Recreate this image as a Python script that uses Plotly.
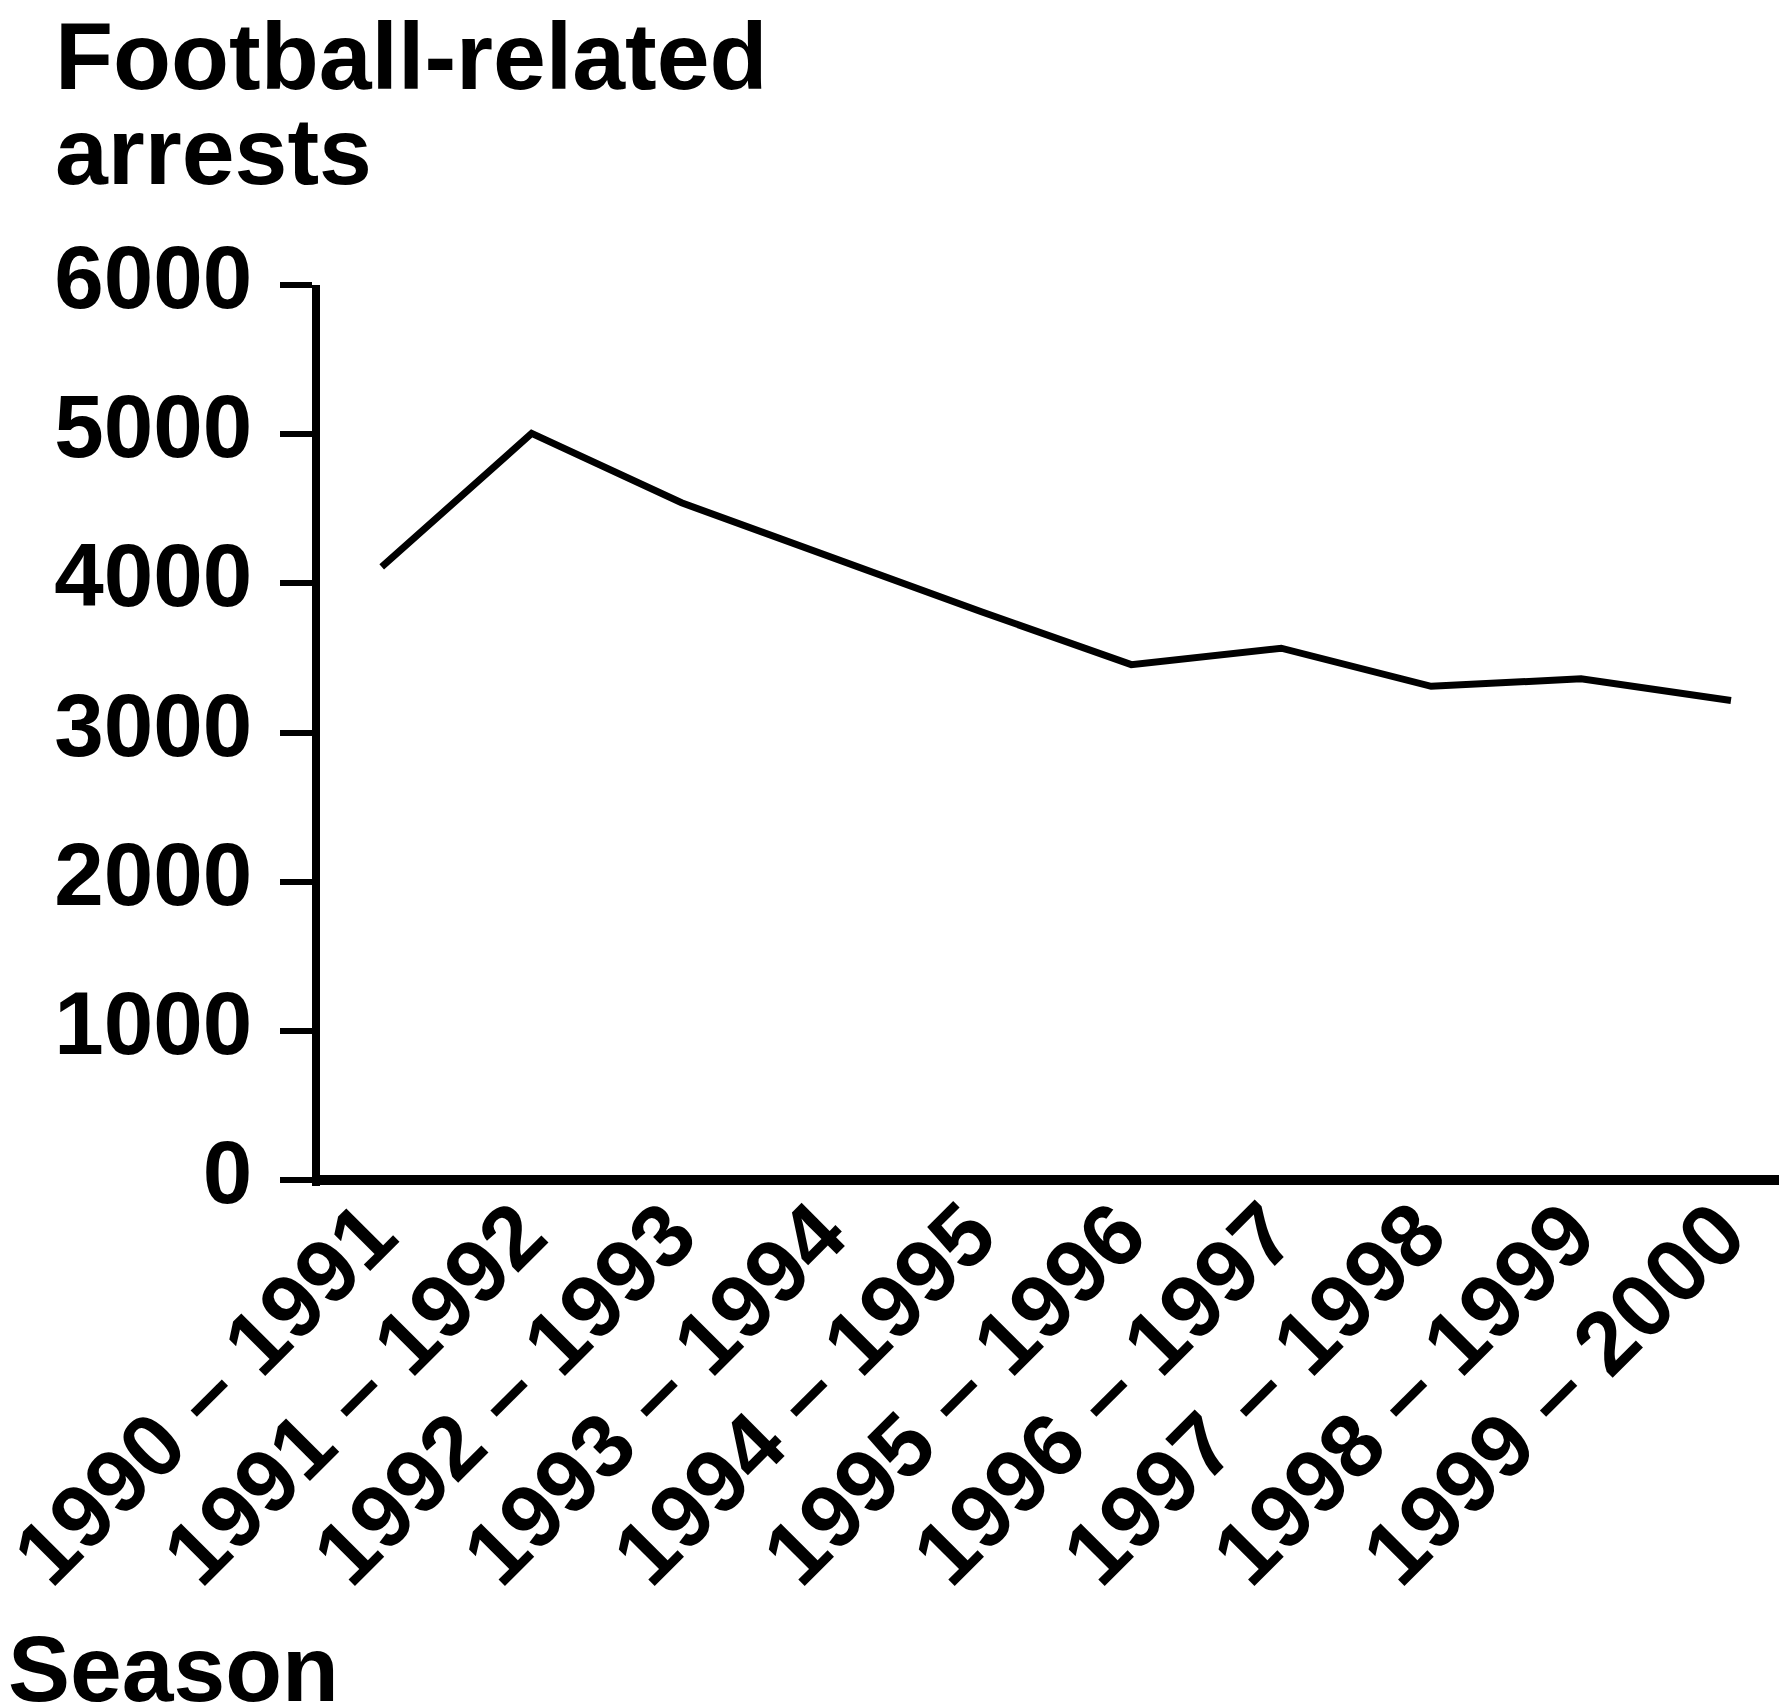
import plotly.graph_objects as go

seasons = ["1990 – 1991", "1991 – 1992", "1992 – 1993", "1993 – 1994", "1994 – 1995",
           "1995 – 1996", "1996 – 1997", "1997 – 1998", "1998 – 1999", "1999 – 2000"]
arrests = [4110, 5005, 4540, 4170, 3810, 3455, 3565, 3310, 3360, 3215]
y_ticks = [0, 1000, 2000, 3000, 4000, 5000, 6000]

FONT = "Liberation Sans, Arial, Helvetica, sans-serif"

fig = go.Figure()
fig.add_trace(go.Scatter(
    x=list(range(len(seasons))), y=arrests, mode="lines",
    line=dict(color="black", width=7), hoverinfo="skip", showlegend=False))

fig.update_layout(
    width=1782, height=1705,
    margin=dict(l=320, r=3, t=285, b=518.5, pad=0),
    paper_bgcolor="white", plot_bgcolor="white",
    font=dict(family=FONT, color="black", size=90, weight="bold"),
    showlegend=False,
    xaxis=dict(
        range=[-0.4116, 9.3203], tickmode="array",
        tickvals=list(range(len(seasons))), ticktext=seasons,
        tickangle=-45, showgrid=False, zeroline=False, automargin=False,
        showline=False, ticks="",
        ticklabeloverflow="allow", ticklabelstandoff=-23, ticklabelshift=-12,
        tickfont=dict(family=FONT, size=89, color="black", weight="bold"),
    ),
    yaxis=dict(
        range=[-40, 6000], tickmode="array", tickvals=y_ticks,
        ticktext=[str(v) for v in y_ticks], automargin=False,
        showgrid=False,
        zeroline=True, zerolinecolor="black", zerolinewidth=10,
        showline=True, linecolor="black", linewidth=8,
        ticks="outside", ticklen=32, tickwidth=6, tickcolor="black",
        ticklabelstandoff=10, ticklabelshift=-8,
        tickfont=dict(family=FONT, size=89, color="black", weight="bold"),
    ),
    annotations=[
        dict(text="Football-related", xref="paper", yref="paper", x=-0.1831, y=1.2546,
             xanchor="left", yanchor="middle", showarrow=False,
             font=dict(family=FONT, size=95, color="black", weight="bold")),
        dict(text="arrests", xref="paper", yref="paper", x=-0.1831, y=1.1486,
             xanchor="left", yanchor="middle", showarrow=False,
             font=dict(family=FONT, size=95, color="black", weight="bold")),
        dict(text="Season", xref="paper", yref="paper", x=-0.2149, y=-0.5365,
             xanchor="left", yanchor="middle", showarrow=False,
             font=dict(family=FONT, size=93, color="black", weight="bold")),
    ],
)

fig.write_html("out.html", config={"displayModeBar": False},
               post_script="document.body.style.margin='0px';")
